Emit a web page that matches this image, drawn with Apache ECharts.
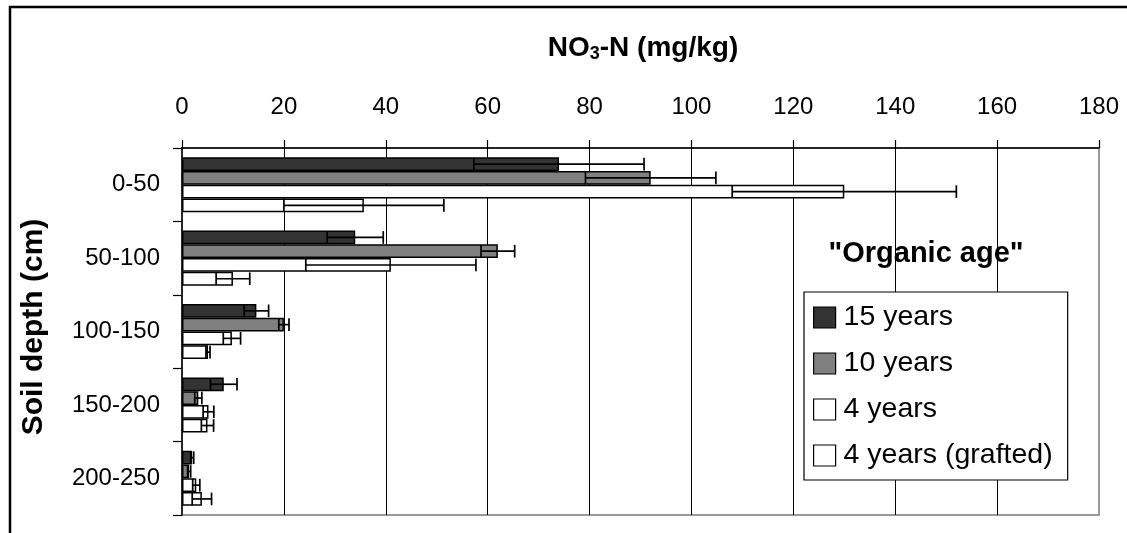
<!DOCTYPE html>
<html>
<head>
<meta charset="utf-8">
<script src="https://cdn.jsdelivr.net/npm/echarts@6/dist/echarts.min.js"></script>
<style>
html,body{margin:0;padding:0;background:#fff;}
#main{width:1127px;height:533px;}
</style>
</head>
<body>
<div id="main"></div>
<script>
// ---- data ----
const categories = ['0-50', '50-100', '100-150', '150-200', '200-250'];
const seriesNames = ['15 years', '10 years', '4 years', '4 years (grafted)'];
const years15 = [74, 34, 14.6, 8.2, 2.0];
const err15   = [16.7, 5.5, 2.4, 2.6, 0.3];
const years10 = [92, 62, 20, 3.2, 1.4];
const err10   = [12.8, 3.3, 1.0, 0.7, 0.3];
const years4  = [130, 41, 9.8, 5.2, 2.8];
const err4    = [22, 16.7, 1.7, 1.05, 0.7];
const years4g = [35.7, 10, 5.1, 5.0, 3.9];
const err4g   = [15.7, 3.3, 0.4, 1.2, 1.9];
const xTicks  = [0, 20, 40, 60, 80, 100, 120, 140, 160, 180];

const means = [years15, years10, years4, years4g];
const errs  = [err15, err10, err4, err4g];
const colors = ['#333333', '#808080', '#ffffff', '#ffffff'];
const FONT = '"Liberation Sans", Arial, sans-serif';
const BAR_GAP_FRAC = 0.25;

const chart = echarts.init(document.getElementById('main'));

const barSeries = seriesNames.map((name, i) => ({
  name: name,
  type: 'bar',
  data: means[i],
  barGap: '0%',
  barCategoryGap: '25%',
  itemStyle: { color: colors[i], borderColor: '#000', borderWidth: 1.5 },
  z: 2
}));

const errData = [];
means.forEach((arr, si) => {
  arr.forEach((m, ci) => {
    const e = errs[si][ci];
    errData.push([ci, m, e, si, m - e, m + e]);
  });
});

function renderErr(params, api) {
  const ci = api.value(0), m = api.value(1), e = api.value(2), si = api.value(3);
  const band = api.size([0, 1])[1];
  const bw = band * (1 - BAR_GAP_FRAC) / 4;
  const c = api.coord([0, ci])[1];
  const y = c - band * (1 - BAR_GAP_FRAC) / 2 + bw * (si + 0.5);
  const xl = api.coord([m - e, ci])[0];
  const xr = api.coord([m + e, ci])[0];
  const h = bw * 0.46;
  const st = { stroke: '#000', lineWidth: 1.7 };
  return {
    type: 'group',
    children: [
      { type: 'line', shape: { x1: xl, y1: y, x2: xr, y2: y }, style: st },
      { type: 'line', shape: { x1: xl, y1: y - h, x2: xl, y2: y + h }, style: st },
      { type: 'line', shape: { x1: xr, y1: y - h, x2: xr, y2: y + h }, style: st }
    ]
  };
}

const option = {
  animation: false,
  backgroundColor: '#fff',
  textStyle: { fontFamily: FONT },
  grid: {
    left: 182, right: 28, top: 148, bottom: 18,
    show: true, borderColor: '#9a9a9a', borderWidth: 2, backgroundColor: 'transparent'
  },
  xAxis: {
    type: 'value',
    position: 'top',
    min: xTicks[0],
    max: xTicks[xTicks.length - 1],
    interval: xTicks[1] - xTicks[0],
    axisLine: { show: true, lineStyle: { color: '#000', width: 1.5 } },
    axisTick: { show: true, length: 8, lineStyle: { color: '#000', width: 1.2 } },
    axisLabel: { fontSize: 24, color: '#000', margin: 29, fontFamily: FONT },
    splitLine: { show: true, showMinLine: false, showMaxLine: false, lineStyle: { color: '#000', width: 1 } }
  },
  yAxis: {
    type: 'category',
    inverse: true,
    data: categories,
    axisLine: { show: true, lineStyle: { color: '#000', width: 1.5 } },
    axisTick: { show: true, length: 9, lineStyle: { color: '#000', width: 1.2 } },
    axisLabel: { fontSize: 24, color: '#000', margin: 22, fontFamily: FONT },
    splitLine: { show: false }
  },
  legend: {
    orient: 'vertical',
    left: 804,
    top: 292,
    padding: [11, 15, 10, 9],
    itemWidth: 22,
    itemHeight: 21,
    itemGap: 17,
    icon: 'rect',
    data: seriesNames,
    textStyle: { fontSize: 28.5, color: '#000', fontFamily: FONT, padding: [0, 0, 0, 3] },
    itemStyle: { borderColor: '#000', borderWidth: 1.2 },
    borderColor: '#000',
    borderWidth: 1.2,
    backgroundColor: '#fff',
    borderRadius: 0
  },
  graphic: [
    {
      type: 'rect', silent: true, z: -10,
      shape: { x: 10, y: 7, width: 1400, height: 800 },
      style: { fill: 'none', stroke: '#000', lineWidth: 2.5 }
    },
    {
      type: 'text', silent: true,
      x: 643, y: 48,
      style: {
        text: '{b|NO}{s|3}{b|-N (mg/kg)}',
        align: 'center', verticalAlign: 'middle',
        rich: {
          b: { fontSize: 28, fontWeight: 'bold', fontFamily: FONT, fill: '#000', color: '#000' },
          s: { fontSize: 18, fontWeight: 'bold', fontFamily: FONT, fill: '#000', color: '#000', padding: [12, 0, 0, 0] }
        }
      }
    },
    {
      type: 'text', silent: true,
      x: 34, y: 327, rotation: Math.PI / 2,
      style: {
        text: 'Soil depth (cm)',
        align: 'center', verticalAlign: 'middle',
        font: 'bold 30px ' + FONT, fill: '#000'
      }
    },
    {
      type: 'text', silent: true,
      x: 926, y: 254,
      style: {
        text: '"Organic age"',
        align: 'center', verticalAlign: 'middle',
        font: 'bold 29px ' + FONT, fill: '#000'
      }
    }
  ],
  series: barSeries.concat([{
    name: 'error',
    type: 'custom',
    renderItem: renderErr,
    data: errData,
    encode: { x: [4, 5], y: 0 },
    z: 5,
    silent: true
  }])
};

chart.setOption(option);
</script>
</body>
</html>
